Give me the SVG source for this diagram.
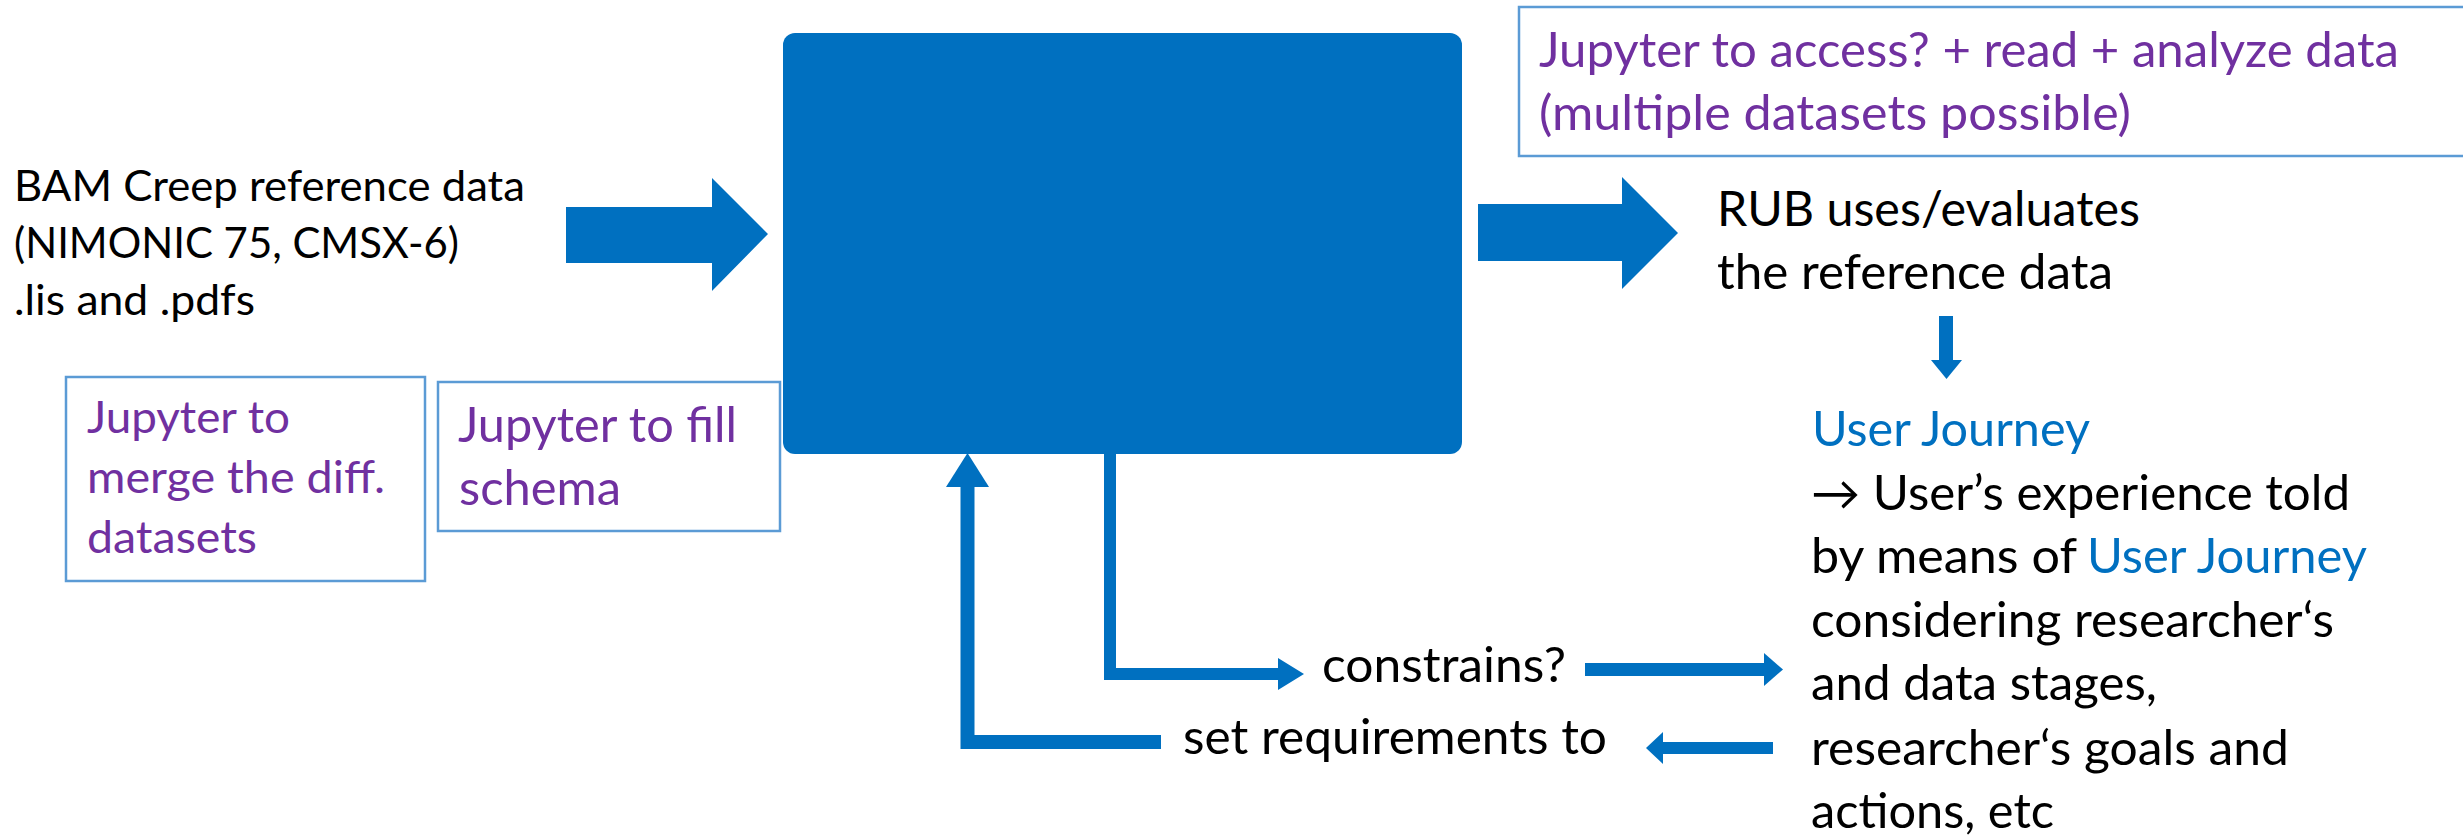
<svg xmlns="http://www.w3.org/2000/svg" width="2463" height="837" viewBox="0 0 2463 837">
  <style>
    .t { font-family: Lato, "Liberation Sans", "DejaVu Sans", sans-serif; }
    .blk { fill: #000000; }
    .pur { fill: #7030A0; }
    .blu { fill: #0070C0; }
    .box { fill: #ffffff; stroke: #5B9BD5; stroke-width: 2.5; }
    .solid { fill: #0070C0; }
    .line { fill: none; stroke: #0070C0; stroke-linejoin: miter; stroke-linecap: butt; }
  </style>

  <!-- central process block -->
  <g id="process">
    <rect class="solid" x="783" y="33" width="679" height="421" rx="12" ry="12"/>
  </g>

  <!-- input description -->
  <g id="input-data">
    <text class="t blk" font-size="42.5">
      <tspan x="14" y="201" textLength="511" lengthAdjust="spacingAndGlyphs">BAM Creep reference data</tspan>
      <tspan x="14" y="258" textLength="445" lengthAdjust="spacingAndGlyphs">(NIMONIC 75, CMSX-6)</tspan>
      <tspan x="14" y="315" textLength="241" lengthAdjust="spacingAndGlyphs">.lis and .pdfs</tspan>
    </text>
  </g>

  <!-- jupyter notes -->
  <g id="note-merge">
    <rect class="box" x="66" y="377" width="359" height="204"/>
    <text class="t pur" font-size="45">
      <tspan x="87" y="433" textLength="203" lengthAdjust="spacingAndGlyphs">Jupyter to</tspan>
      <tspan x="87" y="493" textLength="298" lengthAdjust="spacingAndGlyphs">merge the diff.</tspan>
      <tspan x="87" y="553" textLength="170" lengthAdjust="spacingAndGlyphs">datasets</tspan>
    </text>
  </g>

  <g id="note-fill">
    <rect class="box" x="438" y="382" width="342" height="149"/>
    <text class="t pur" font-size="47.5">
      <tspan x="458" y="442" textLength="279" lengthAdjust="spacingAndGlyphs">Jupyter to fill</tspan>
      <tspan x="459" y="505" textLength="162" lengthAdjust="spacingAndGlyphs">schema</tspan>
    </text>
  </g>

  <g id="note-access">
    <rect class="box" x="1519" y="7" width="970" height="149"/>
    <text class="t pur" font-size="47.5">
      <tspan x="1539" y="67" textLength="860" lengthAdjust="spacingAndGlyphs">Jupyter to access? + read + analyze data</tspan>
      <tspan x="1539" y="130" textLength="592" lengthAdjust="spacingAndGlyphs">(multiple datasets possible)</tspan>
    </text>
  </g>

  <!-- output description -->
  <g id="rub-usage">
    <text class="t blk" font-size="47.5">
      <tspan x="1717" y="226" textLength="423" lengthAdjust="spacingAndGlyphs">RUB uses/evaluates</tspan>
      <tspan x="1717" y="289" textLength="396" lengthAdjust="spacingAndGlyphs">the reference data</tspan>
    </text>
  </g>

  <g id="user-journey">
    <text class="t blu" font-size="47.5" x="1812" y="446" textLength="278" lengthAdjust="spacingAndGlyphs">User Journey</text>
    <text class="t blk" font-size="47.5" x="1811" y="510" textLength="539" lengthAdjust="spacingAndGlyphs">→ User’s experience told</text>
    <text class="t blk" font-size="47.5" x="1811" y="573" textLength="266" lengthAdjust="spacingAndGlyphs">by means of</text>
    <text class="t blu" font-size="47.5" x="2087" y="573" textLength="280" lengthAdjust="spacingAndGlyphs">User Journey</text>
    <text class="t blk" font-size="47.5" x="1811" y="637" textLength="523" lengthAdjust="spacingAndGlyphs">considering researcher‘s</text>
    <text class="t blk" font-size="47.5" x="1811" y="700" textLength="346" lengthAdjust="spacingAndGlyphs">and data stages,</text>
    <text class="t blk" font-size="47.5" x="1811" y="765" textLength="478" lengthAdjust="spacingAndGlyphs">researcher‘s goals and</text>
    <text class="t blk" font-size="47.5" x="1811" y="828" textLength="243" lengthAdjust="spacingAndGlyphs">actions, etc</text>
  </g>

  <!-- connectors -->
  <g id="connectors">
    <!-- block arrows in and out of the process -->
    <polygon class="solid" points="566,207 712,207 712,178 768,234 712,291 712,263 566,263"/>
    <polygon class="solid" points="1478,204 1622,204 1622,177 1678,233 1622,289 1622,261 1478,261"/>
    <!-- RUB to user journey -->
    <rect class="solid" x="1939" y="316" width="14" height="45"/>
    <polygon class="solid" points="1931,360 1962,360 1946.5,379"/>
    <!-- process to constraints -->
    <polyline class="line" stroke-width="12" points="1110,453 1110,674 1279,674"/>
    <polygon class="solid" points="1278,658 1304,674 1278,690"/>
    <text class="t blk" font-size="47.5" x="1322" y="682" textLength="244" lengthAdjust="spacingAndGlyphs">constrains?</text>
    <rect class="solid" x="1585" y="663" width="180" height="13"/>
    <polygon class="solid" points="1764,653 1783,669.5 1764,686"/>
    <!-- requirements back to the process -->
    <rect class="solid" x="1662" y="742" width="111" height="12"/>
    <polygon class="solid" points="1663,732 1646,748 1663,764"/>
    <text class="t blk" font-size="47.5" x="1183" y="754" textLength="424" lengthAdjust="spacingAndGlyphs">set requirements to</text>
    <polyline class="line" stroke-width="14" points="1161,742 967.5,742 967.5,486"/>
    <polygon class="solid" points="946,487 989,487 967.5,453"/>
  </g>
</svg>
